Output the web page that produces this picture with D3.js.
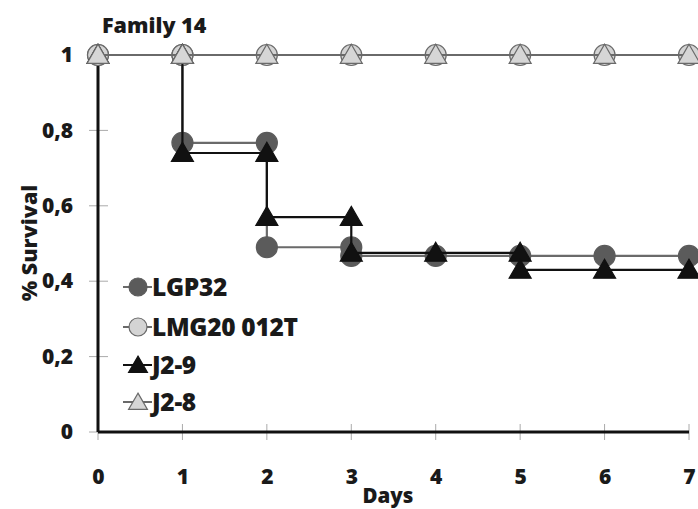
<!DOCTYPE html>
<html><head><meta charset="utf-8">
<script src="https://cdn.jsdelivr.net/npm/d3@7"></script>
<style>
body{margin:0;background:#fff;}
text{font-family:"Open Sans",Lato,sans-serif;font-weight:800;fill:#1a1a1a;}
</style></head>
<body>
<script>
const days = [0, 1, 2, 3, 4, 5, 6, 7];
const seriesNames = ["LGP32", "LMG20 012T", "J2-9", "J2-8"];
const lgp32 = [1, 0.767, 0.49, 0.467, 0.467, 0.467, 0.467, 0.467];
const lmg20012T = [1, 1, 1, 1, 1, 1, 1, 1];
const j29 = [1, 0.74, 0.57, 0.475, 0.475, 0.43, 0.43, 0.43];
const j28 = [1, 1, 1, 1, 1, 1, 1, 1];
const yTicks = [0, 0.2, 0.4, 0.6, 0.8, 1];

const W = 698, H = 509;
const svg = d3.select("body").append("svg").attr("width", W).attr("height", H);
const x = d3.scaleLinear().domain([0, 7]).range([98, 689]);
const y = d3.scaleLinear().domain([0, 1]).range([432, 55]);

const styles = [
  {vals: lgp32, shape: "circle", fill: "#5b5b5b", stroke: "#5b5b5b", line: "#6a6a6a"},
  {vals: lmg20012T, shape: "circle", fill: "#d4d4d4", stroke: "#6a6a6a", line: "#6a6a6a"},
  {vals: j29, shape: "triangle", fill: "#111", stroke: "#111", line: "#111"},
  {vals: j28, shape: "triangle", fill: "#d6d6d6", stroke: "#6a6a6a", line: "#6a6a6a"}
];

// ticks
svg.append("g").selectAll("line").data(yTicks).join("line")
  .attr("x1", 89).attr("x2", 108).attr("y1", d => y(d)).attr("y2", d => y(d))
  .attr("stroke", "#aaa").attr("stroke-width", 1);
svg.append("g").selectAll("line").data(days).join("line")
  .attr("x1", d => x(d)).attr("x2", d => x(d)).attr("y1", 424).attr("y2", 440)
  .attr("stroke", "#aaa").attr("stroke-width", 1);

const fmt = d => d === 0 ? "0" : d === 1 ? "1" : d.toFixed(1).replace(".", ",");
const yAxis = svg.append("g").attr("transform", "translate(98,0)")
  .call(d3.axisLeft(y).tickValues(yTicks).tickFormat(fmt).tickSize(0).tickPadding(25));
yAxis.select(".domain").remove();
yAxis.selectAll("text").style("font-size", "21px").attr("fill", "#1a1a1a");

const xAxis = svg.append("g").attr("transform", "translate(0,432)")
  .call(d3.axisBottom(x).tickValues(days).tickFormat(d3.format("d")).tickSize(0).tickPadding(37));
xAxis.select(".domain").remove();
xAxis.selectAll("text").style("font-size", "21px").attr("fill", "#1a1a1a");

// axis lines
svg.append("line").attr("x1", x(0)).attr("x2", x(7)).attr("y1", y(0)).attr("y2", y(0))
  .attr("stroke", "#111").attr("stroke-width", 3);
svg.append("line").attr("x1", x(0)).attr("x2", x(0)).attr("y1", y(1)).attr("y2", y(0))
  .attr("stroke", "#111").attr("stroke-width", 3);

function stepPoints(vals) {
  const pts = [];
  vals.forEach((v, i) => {
    if (i > 0 && vals[i - 1] !== v) pts.push([days[i], vals[i - 1]]);
    pts.push([days[i], v]);
  });
  return pts;
}
function drawMarker(g, shape, fill, stroke, cx, cy, r) {
  if (shape === "circle") {
    g.append("circle").attr("cx", cx).attr("cy", cy).attr("r", r)
      .attr("fill", fill).attr("stroke", stroke).attr("stroke-width", 1.2);
  } else {
    const tri = d3.symbol().type(d3.symbolTriangle).size(r * r * 1.9);
    g.append("path").attr("d", tri).attr("transform", `translate(${cx},${cy + 2})`)
      .attr("fill", fill).attr("stroke", stroke).attr("stroke-width", 1.2);
  }
}
const lineGen = d3.line().x(d => x(d[0])).y(d => y(d[1]));
styles.forEach(s => {
  const pts = stepPoints(s.vals);
  const g = svg.append("g");
  g.append("path").attr("d", lineGen(pts)).attr("fill", "none")
    .attr("stroke", s.line).attr("stroke-width", 2.2);
  pts.forEach(p => drawMarker(g, s.shape, s.fill, s.stroke, x(p[0]), y(p[1]), 10.5));
});

// legend
const legY = [287, 327, 365, 402];
styles.forEach((s, i) => {
  const g = svg.append("g");
  g.append("line").attr("x1", 123).attr("x2", 152).attr("y1", legY[i]).attr("y2", legY[i])
    .attr("stroke", s.line).attr("stroke-width", 2);
  drawMarker(g, s.shape, s.fill, s.stroke, 138, legY[i], 9);
  g.append("text").attr("x", 152).attr("y", legY[i] + 9).style("font-size", "24.5px")
    .style("letter-spacing", "-0.3px").text(seriesNames[i]);
});

svg.append("text").attr("x", 102).attr("y", 33).style("font-size", "21.5px").text("Family 14");
svg.append("text").attr("x", 388).attr("y", 503).attr("text-anchor", "middle").style("font-size", "20.5px").text("Days");
svg.append("text").attr("transform", "translate(37,243) rotate(-90)").attr("text-anchor", "middle")
  .style("font-size", "21.5px").text("% Survival");
</script>
</body></html>
